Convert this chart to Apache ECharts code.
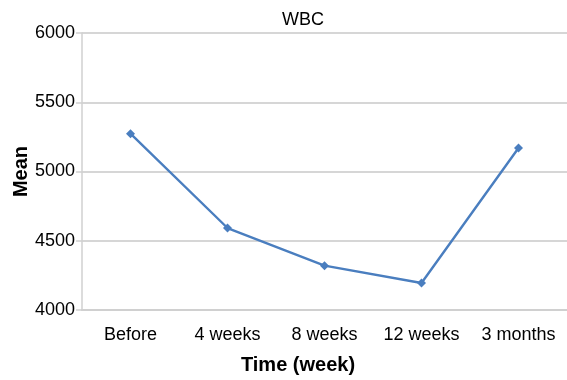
<!DOCTYPE html>
<html>
<head>
<meta charset="utf-8">
<script src="https://cdn.jsdelivr.net/npm/echarts@6/dist/echarts.min.js"></script>
<style>
  html, body { margin: 0; padding: 0; background: #fff; }
  #chart { width: 567px; height: 380px; }
</style>
</head>
<body>
<div id="chart"></div>
<script>
// WBC mean over time
const categories = ['Before', '4 weeks', '8 weeks', '12 weeks', '3 months'];
const wbcMean = [5273, 4592, 4320, 4195, 5170];
const yTicks = { min: 4000, max: 6000, interval: 500 };

const chart = echarts.init(document.getElementById('chart'), null, { renderer: 'canvas' });
const font = 'Liberation Sans, Arial, sans-serif';

chart.setOption({
  animation: false,
  backgroundColor: '#ffffff',
  title: {
    text: 'WBC',
    left: 298,
    top: 6,
    textAlign: 'center',
    textStyle: { fontFamily: font, fontSize: 18, fontWeight: 'normal', color: '#000' }
  },
  grid: { left: 82, top: 33, width: 495, height: 278, containLabel: false },
  xAxis: {
    type: 'category',
    data: categories,
    boundaryGap: true,
    name: 'Time (week)',
    nameLocation: 'middle',
    nameGap: 45,
    nameMoveOverlap: false,
    nameTextStyle: { fontFamily: font, fontSize: 20, fontWeight: 'bold', color: '#000', padding: [0, 53, 0, 0] },
    axisLine: { lineStyle: { color: '#d0d0d0', width: 2 } },
    axisTick: { show: false },
    axisLabel: { fontFamily: font, fontSize: 18, color: '#000', margin: 16, interval: 0, hideOverlap: false },
    splitLine: { show: false }
  },
  yAxis: {
    type: 'value',
    min: yTicks.min,
    max: yTicks.max,
    interval: yTicks.interval,
    name: 'Mean',
    nameLocation: 'middle',
    nameGap: 51,
    nameMoveOverlap: false,
    nameRotate: 90,
    nameTextStyle: { fontFamily: font, fontSize: 20, fontWeight: 'bold', color: '#000' },
    axisLine: { show: true, lineStyle: { color: '#d0d0d0', width: 1.5 } },
    axisTick: { show: true, length: 6, lineStyle: { color: '#d0d0d0', width: 1.5 } },
    axisLabel: { fontFamily: font, fontSize: 18, color: '#000', margin: 7, formatter: v => String(v) },
    splitLine: { show: true, lineStyle: { color: '#d6d6d6', width: 2 } }
  },
  series: [{
    type: 'line',
    data: wbcMean,
    symbol: 'diamond',
    symbolSize: 9,
    lineStyle: { color: '#4a7ebf', width: 2.4 },
    itemStyle: { color: '#4a7ebf' }
  }]
});
</script>
</body>
</html>
